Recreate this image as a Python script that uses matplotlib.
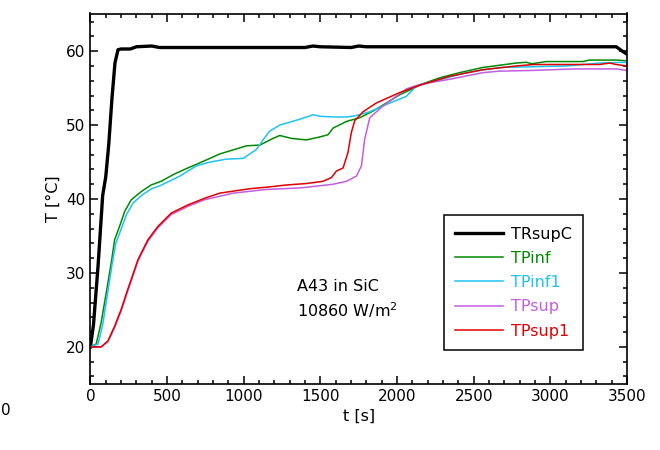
import matplotlib
matplotlib.use("Agg")
import matplotlib.pyplot as plt
from matplotlib.ticker import MultipleLocator

plt.rcParams['font.family'] = ['DejaVu Sans']

# values
t_trsupc = [0, 20, 50, 80, 100, 120, 140, 160, 180, 200, 260, 300, 400, 450, 1000, 1400, 1450, 1500, 1700, 1750, 1800, 3430, 3470, 3500]
T_trsupc = [20, 23, 31, 40.5, 43.0, 47.5, 53.5, 58.4, 60.2, 60.3, 60.3, 60.6, 60.7, 60.5, 60.5, 60.5, 60.7, 60.6, 60.5, 60.7, 60.6, 60.6, 60.0, 59.6]

t_tpinf = [0, 38, 70, 103, 136, 158, 190, 223, 266, 331, 396, 461, 549, 635, 714, 844, 1018, 1105, 1191, 1235, 1311, 1409, 1496, 1550, 1583, 1670, 1757, 1843, 1931, 2017, 2169, 2278, 2408, 2560, 2669, 2778, 2843, 2880, 2973, 3212, 3256, 3430, 3500]
T_tpinf = [20, 20.4, 23.3, 27.3, 31.4, 34.5, 36.3, 38.3, 39.9, 41.0, 41.9, 42.4, 43.4, 44.2, 44.9, 46.1, 47.2, 47.3, 48.2, 48.6, 48.2, 48.0, 48.4, 48.7, 49.6, 50.5, 51.0, 51.9, 53.0, 54.1, 55.6, 56.4, 57.1, 57.8, 58.1, 58.4, 58.5, 58.3, 58.6, 58.6, 58.8, 58.8, 58.7]

t_tpinf1 = [0, 50, 80, 110, 140, 165, 200, 235, 280, 340, 400, 453, 583, 692, 779, 888, 996, 1083, 1126, 1170, 1235, 1366, 1452, 1496, 1583, 1670, 1735, 1822, 1931, 2061, 2126, 2234, 2452, 2669, 2887, 3104, 3321, 3500]
T_tpinf1 = [20, 20.4, 23.0, 27.0, 31.0, 34.0, 35.9, 37.9, 39.5, 40.6, 41.4, 41.8, 43.1, 44.5, 45.0, 45.4, 45.5, 46.7, 48.0, 49.2, 50.0, 50.8, 51.4, 51.2, 51.1, 51.1, 51.3, 51.8, 52.8, 53.9, 55.3, 55.9, 57.1, 57.8, 57.9, 58.0, 58.4, 58.5]

t_tpsup = [0, 70, 114, 158, 201, 244, 310, 375, 440, 527, 635, 744, 931, 1148, 1366, 1583, 1670, 1735, 1768, 1789, 1822, 1909, 2061, 2148, 2343, 2560, 2669, 2887, 3147, 3430, 3500]
T_tpsup = [20, 20, 20.7, 22.6, 24.9, 27.6, 31.6, 34.3, 36.1, 37.9, 39.0, 39.9, 40.8, 41.3, 41.5, 42.0, 42.4, 43.1, 44.5, 48.1, 51.0, 52.6, 54.9, 55.5, 56.2, 57.1, 57.3, 57.4, 57.6, 57.6, 57.4]

t_tpsup1 = [0, 70, 114, 158, 201, 244, 310, 375, 440, 527, 635, 744, 844, 1040, 1148, 1278, 1409, 1517, 1572, 1605, 1648, 1680, 1702, 1724, 1778, 1865, 2017, 2148, 2343, 2560, 2778, 2887, 3321, 3386, 3430, 3500]
T_tpsup1 = [20, 20, 20.8, 22.8, 25.1, 27.8, 31.8, 34.5, 36.3, 38.1, 39.2, 40.1, 40.8, 41.4, 41.6, 41.9, 42.1, 42.4, 42.9, 43.8, 44.2, 46.3, 49.0, 50.6, 51.8, 53.0, 54.4, 55.4, 56.6, 57.5, 58.0, 58.2, 58.2, 58.4, 58.2, 58.0]

fig = plt.figure(figsize=(6.6, 4.5), dpi=100)
ax = fig.add_axes([0.137, 0.147, 0.813, 0.823])

ax.plot(t_trsupc, T_trsupc, color='black', lw=2.4, label='TRsupC')
ax.plot(t_tpinf, T_tpinf, color='#008a00', lw=1.1, label='TPinf')
ax.plot(t_tpinf1, T_tpinf1, color='#1ec3f2', lw=1.1, label='TPinf1')
ax.plot(t_tpsup, T_tpsup, color='#c25ee0', lw=1.1, label='TPsup')
ax.plot(t_tpsup1, T_tpsup1, color='#e00000', lw=1.1, label='TPsup1')

ax.set_xlim(0, 3500)
ax.set_ylim(15, 65.1)
ax.xaxis.set_major_locator(MultipleLocator(500))
ax.xaxis.set_minor_locator(MultipleLocator(100))
ax.yaxis.set_major_locator(MultipleLocator(10))
ax.yaxis.set_minor_locator(MultipleLocator(2))
ax.tick_params(which='both', direction='in', top=True, right=True, labelsize=11, width=1.1)
ax.tick_params(which='major', length=6)
ax.tick_params(which='minor', length=3)
for s in ax.spines.values():
    s.set_linewidth(1.2)

ax.set_xlabel('t [s]', fontsize=11.5)
ax.set_ylabel('T [°C]', fontsize=11.5)

ax.text(1350, 27.6, 'A43 in SiC', fontsize=11.5)
ax.text(1350, 24.1, '10860 W/m$^2$', fontsize=11.5)

leg = ax.legend(loc='lower right', bbox_to_anchor=(0.918, 0.092), borderaxespad=0,
                fontsize=11.5, fancybox=False, edgecolor='black', framealpha=1,
                handlelength=3.0, handletextpad=0.5, borderpad=0.7,
                labelspacing=0.58)
leg.get_frame().set_linewidth(1.1)
for txt, line in zip(leg.get_texts(), leg.get_lines()):
    txt.set_color(line.get_color())

# stray tick label at the left edge of the reference
fig.text(0.009, 0.088, '0', fontsize=11, ha='center', va='center')

fig.savefig('out.png', dpi=100)
